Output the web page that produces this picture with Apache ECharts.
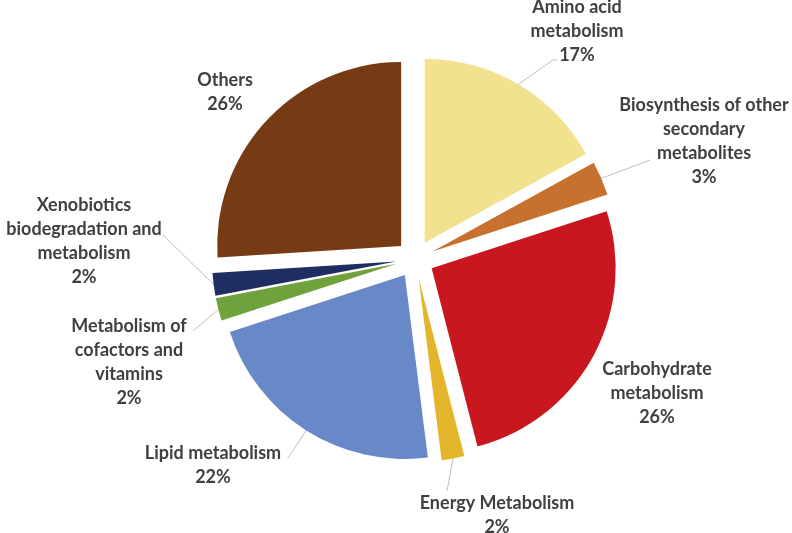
<!DOCTYPE html>
<html>
<head>
<meta charset="utf-8">
<script src="https://cdn.jsdelivr.net/npm/echarts@6/dist/echarts.min.js"></script>
<style>
    html, body { margin: 0; padding: 0; background: #fff; }
    #main { width: 792px; height: 533px; }
</style>
</head>
<body>
<div id="main"></div>
<script>
// pathway categories, clockwise from 12 o'clock
var categories = [
    'Amino acid\nmetabolism',
    'Biosynthesis of other\nsecondary\nmetabolites',
    'Carbohydrate\nmetabolism',
    'Energy Metabolism',
    'Lipid metabolism',
    'Metabolism of\ncofactors and\nvitamins',
    'Xenobiotics\nbiodegradation and\nmetabolism',
    'Others'
];
var percents = [17, 3, 26, 2, 22, 2, 2, 26];
var colors = ['#F2E18F', '#C7712F', '#C8171E', '#E3B52B', '#6888C8', '#6FA13C', '#1F2D62', '#763A15'];

// label block centres and where the guide line meets the text (screen px)
var labelPos = [
    [577, 31], [704, 141], [657, 393], [497, 515],
    [213, 465], [129, 362], [84, 241], [225, 92]
];
var lineEnds = [
    [[553, 60], [557, 60]], [[650, 160]], null, [[447, 491]],
    [[288, 458]], [[193, 331]], [[163, 235]], null
];

var CX = 415, CY = 259, R = 184, SEL_OFFSET = 19;

// explode direction of every slice (mid angle, clockwise from top)
var total = 0, acc = 0, shift = [];
percents.forEach(function (v) { total += v; });
percents.forEach(function (v) {
    var mid = (acc + v / 2) / total * Math.PI * 2;
    shift.push([SEL_OFFSET * Math.sin(mid), -SEL_OFFSET * Math.cos(mid)]);
    acc += v;
});

var chart = echarts.init(document.getElementById('main'));

var data = [];
for (var i = 0; i < categories.length; i++) {
    data.push({
        name: categories[i],
        value: percents[i],
        selected: true,
        itemStyle: { color: colors[i] }
    });
}

var option = {
    animation: false,
    backgroundColor: '#fff',
    series: [{
        type: 'pie',
        center: [CX, CY],
        radius: R,
        startAngle: 90,
        clockwise: true,
        selectedMode: 'multiple',
        selectedOffset: SEL_OFFSET,
        avoidLabelOverlap: false,
        itemStyle: { borderWidth: 0 },
        label: {
            show: true,
            position: 'outside',
            formatter: '{b}\n{c}%',
            fontFamily: 'Lato',
            fontWeight: 'bold',
            fontSize: 18,
            lineHeight: 24,
            color: '#404040',
            align: 'center'
        },
        labelLine: {
            show: true,
            length: 10,
            length2: 10,
            lineStyle: { color: '#BFBFBF', width: 1 }
        },
        labelLayout: function (params) {
            var k = params.dataIndex;
            var p = labelPos[k], s = shift[k];
            var r = params.labelRect;
            var ax = params.align === 'left' ? r.x
                : params.align === 'right' ? r.x + r.width : r.x + r.width / 2;
            var ay = r.y + r.height / 2;
            var start = params.labelLinePoints ? params.labelLinePoints[0] : [ax, ay];
            var pts = [start];
            (lineEnds[k] || [start]).forEach(function (q) {
                pts.push(lineEnds[k] ? [q[0] - s[0], q[1] - s[1]] : q);
            });
            return {
                dx: p[0] - s[0] - ax,
                dy: p[1] - s[1] - ay,
                align: 'center',
                verticalAlign: 'middle',
                labelLinePoints: pts
            };
        },
        emphasis: { disabled: true },
        data: data
    }]
};
chart.setOption(option);
window.addEventListener('resize', chart.resize);
</script>
</body>
</html>
